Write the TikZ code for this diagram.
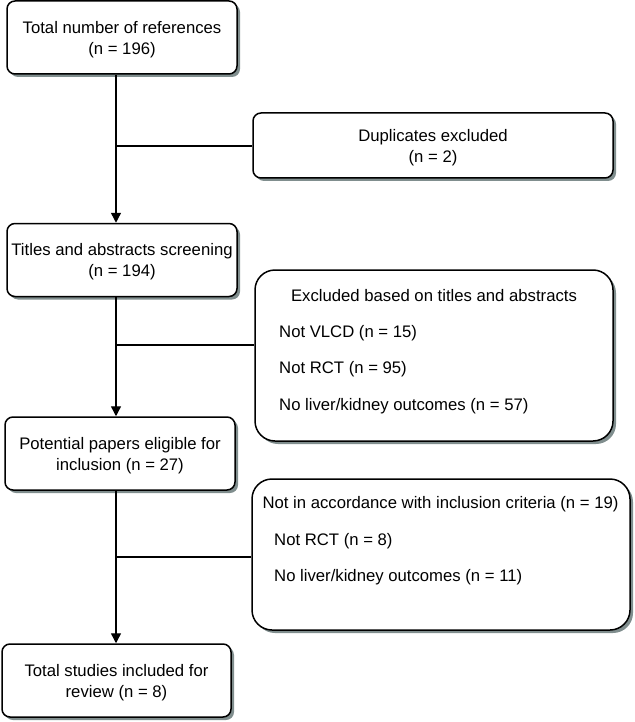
\documentclass[tikz,border=0pt]{standalone}
\usepackage{fontspec}
\setmainfont{Liberation Sans}
\usetikzlibrary{arrows.meta,shadows}

\definecolor{shadowgray}{RGB}{128,142,142}

\begin{document}
\begin{tikzpicture}[x=1pt,y=-1pt,
        txt/.style={inner sep=0pt,font=\fontsize{16.7}{21}\selectfont,align=center},
        smallbox/.style={draw,line width=1.5pt,fill=white,rounded corners=8pt,
            minimum width=230pt,minimum height=73pt,
            drop shadow={shadow xshift=3pt,shadow yshift=-3pt,fill=shadowgray,opacity=1}},
        bigbox/.style={smallbox,rounded corners=20pt},
        arrow/.style={line width=1.4pt,-{Triangle[width=10pt,length=10pt]}},
        branch/.style={line width=1.4pt}]
            \useasboundingbox (0,0) rectangle (634,722);

            %boxes on the left
            \node[smallbox] (total) at (122,37.5) {};

            \node[txt] (totaltext) at (122,40) {Total number of references\\(n = 196)};

            \node[smallbox] (titles) at (122,260) {};

            \node[txt] (titlestext) at (122,262) {Titles and abstracts screening\\(n = 194)};

            \node[smallbox] (potential) at (120,453.5) {};

            \node[txt] (potentialtext) at (120,455.5) {Potential papers eligible for\\inclusion (n = 27)};

            \node[smallbox,minimum width=229pt] (included) at (116.5,680.5) {};

            \node[txt] (includedtext) at (116.5,682.5) {Total studies included for\\review (n = 8)};

            %boxes on the right
            \node[smallbox,minimum width=360pt,minimum height=65pt] (dup) at (433,145.5) {};

            \node[txt] (duptext) at (433,147.5) {Duplicates excluded\\(n = 2)};

            \node[bigbox,minimum width=358pt,minimum height=171pt] (excl) at (434,355.5) {};

            \node[txt] (excltitle) at (434,296) {Excluded based on titles and abstracts};

            \node[txt,anchor=west] (exclvlcd) at (279,333) {Not VLCD (n = 15)};

            \node[txt,anchor=west] (exclrct) at (279,369.5) {Not RCT (n = 95)};

            \node[txt,anchor=west] (exclout) at (279,406) {No liver/kidney outcomes (n = 57)};

            \node[bigbox,minimum width=378pt,minimum height=151pt] (crit) at (441,554.5) {};

            \node[txt] (crittitle) at (440.5,504) {Not in accordance with inclusion criteria (n = 19)};

            \node[txt,anchor=west] (critrct) at (274,541) {Not RCT (n = 8)};

            \node[txt,anchor=west] (critout) at (274,577) {No liver/kidney outcomes (n = 11)};

            %connectors
            \coordinate (j1) at (116,146);

            \coordinate (j2) at (116,345);

            \coordinate (j3) at (116,557);

            \draw[arrow] (total.south -| j1) -- (titles.north -| j1);

            \draw[branch] (j1) -- (j1 -| dup.west);

            \draw[arrow] (titles.south -| j2) -- (potential.north -| j2);

            \draw[branch] (j2) -- (j2 -| excl.west);

            \draw[arrow] (potential.south -| j3) -- (included.north -| j3);

            \draw[branch] (j3) -- (j3 -| crit.west);
        \end{tikzpicture}
\end{document}
